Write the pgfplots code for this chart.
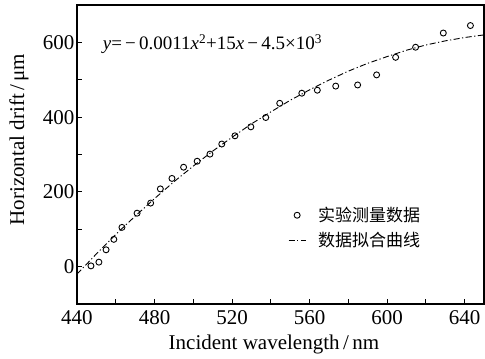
\documentclass[border=0pt]{standalone}
\usepackage{pgfplots}
\pgfplotsset{compat=1.18}
\usepackage{fontspec}
\setmainfont{Liberation Serif}
\newfontfamily\cjk{Noto Sans CJK SC}
\begin{document}
\begin{tikzpicture}
\begin{axis}[
  at={(0pt,0pt)}, anchor=south west,
  scale only axis,
  width=407pt, height=299pt,
  xmin=440, xmax=650, ymin=-100, ymax=700,
  xtick={440,480,...,640}, minor x tick num=1,
  ytick={0,200,400,600}, minor y tick num=1,
  tick pos=left,
  major tick length=5pt, minor tick length=5pt,
  every tick/.style={black, line width=0.9pt},
  axis line style={line width=1.1pt},
  /pgf/number format/assume math mode=true,
  /pgf/number format/set thousands separator={},
  tick label style={font=\fontsize{21}{23}\selectfont},
  xticklabel style={yshift=-3pt},
  yticklabel style={xshift=1pt},
  label style={font=\fontsize{21}{23}\selectfont},
  xlabel={Incident wavelength\,/\,nm},
  ylabel={Horizontal drift\,/\,μm},
  xlabel style={at={(axis description cs:0.484,-0.137)}, anchor=center},
  ylabel style={at={(axis description cs:-0.1425,0.55)}, anchor=center},
  legend style={at={(axis cs:547.3,170)}, anchor=north west, draw=none, fill=none,
    font=\cjk\fontsize{17}{19}\selectfont, row sep=5pt,
    /tikz/every odd column/.append style={column sep=10pt}},
  legend cell align=left,
]
\addplot[only marks, mark=o, mark size=3pt, mark options={line width=0.9pt}, black] coordinates {
(447.2,2) (451.3,12) (455,45) (459,73) (463.2,105) (471,143) (478,170) (483,208)
(489,236) (495,266) (502,282) (508.6,301) (514.7,328) (521.5,350) (529.7,374)
(537.4,399) (544.6,437) (556,464) (564,472) (573.5,483) (584.8,486) (594.6,513)
(604.4,560) (614.7,587) (629,625) (643,645)
};
\addlegendentry{实验测量数据}
\addplot[black, line width=0.9pt, dash pattern=on 6pt off 2.5pt on 1.2pt off 2.5pt] coordinates {
(440,-20) (450,34) (460,86) (470,135) (480,182) (490,227) (500,269) (510,309)
(520,346) (530,382) (540,414) (550,445) (560,473) (570,499) (580,523) (590,544)
(600,562) (610,579) (620,593) (630,604) (640,613) (650,620)
};
\addlegendentry{数据拟合曲线}
\node[anchor=west, font=\fontsize{19}{21}\selectfont] at (axis cs:451.5,596)
  {\textit{y}=\,−\,0.0011\textit{x}\textsuperscript{2}+15\textit{x}\,−\,4.5×10\textsuperscript{3}};
\end{axis}
\pgfresetboundingbox
\path[use as bounding box] (-77pt,-55pt) rectangle (408pt,304pt);
\end{tikzpicture}
\end{document}
